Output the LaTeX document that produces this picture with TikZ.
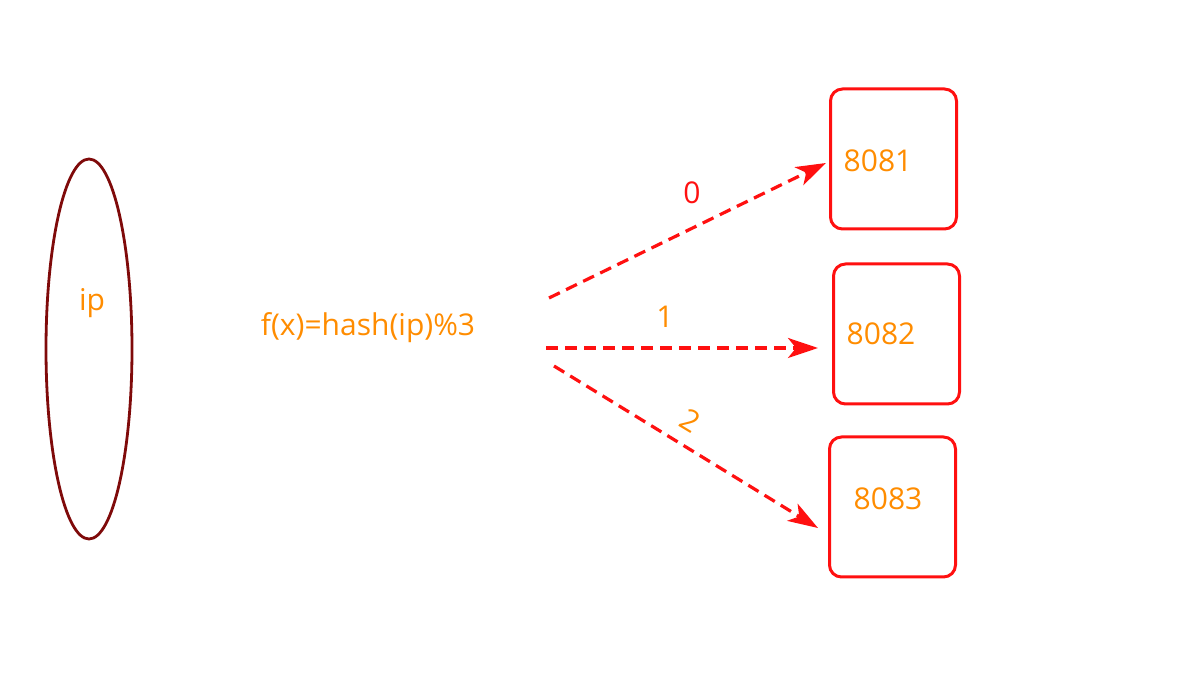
\documentclass[tikz,border=0pt]{standalone}
\usepackage{fontspec}
\setmainfont{Open Sans}
\usetikzlibrary{arrows.meta,shapes.geometric}
\definecolor{txtorange}{HTML}{FF8C00}
\definecolor{ellred}{HTML}{7F0A0A}
\definecolor{lred}{HTML}{FF1010}
\begin{document}
\begin{tikzpicture}[x=0.5pt,y=-0.5pt,
  lbl/.style={text=txtorange,font=\fontsize{15}{17}\selectfont,inner sep=0pt},
  srv/.style={draw=lred,line width=1.5pt,rounded corners=6pt,minimum width=63pt,minimum height=70pt,inner sep=0pt},
  conn/.style={draw=lred,line width=1.6pt,dash pattern=on 6pt off 3.5pt,-{Stealth[length=15pt,width=10pt,inset=4pt]}}]
\useasboundingbox (0,0) rectangle (1200,699);
\node[draw=ellred,line width=1.4pt,ellipse,minimum width=43pt,minimum height=190pt,inner sep=0pt] (ell) at (89,349) {};
\node[lbl] (ip) at (92,303) {ip};
\node[lbl] (fx) at (368,328) {f(x)=hash(ip)\%3};
\node[srv] (b1) at (893.5,159) {};
\node[srv] (b2) at (896.5,334) {};
\node[srv] (b3) at (892.5,507) {};
\node[lbl] (t1) at (878,161) {8081};
\node[lbl] (t2) at (881,334) {8082};
\node[lbl] (t3) at (888,499) {8083};
\coordinate (s0) at (549,298);
\coordinate (s1) at (546,348);
\coordinate (s2) at (554,366);
\coordinate (e0) at (826,163);
\coordinate (e1) at (818,348);
\coordinate (e2) at (818,528);
\draw[conn] (s0) -- (e0);
\draw[conn] (s1) -- (e1);
\draw[conn] (s2) -- (e2);
\node[lbl,text=lred] (l0) at (692,193) {0};
\node[lbl] (l1) at (665,317) {1};
\node[lbl,rotate=-31] (l2) at (690,421) {2};
\end{tikzpicture}
\end{document}
